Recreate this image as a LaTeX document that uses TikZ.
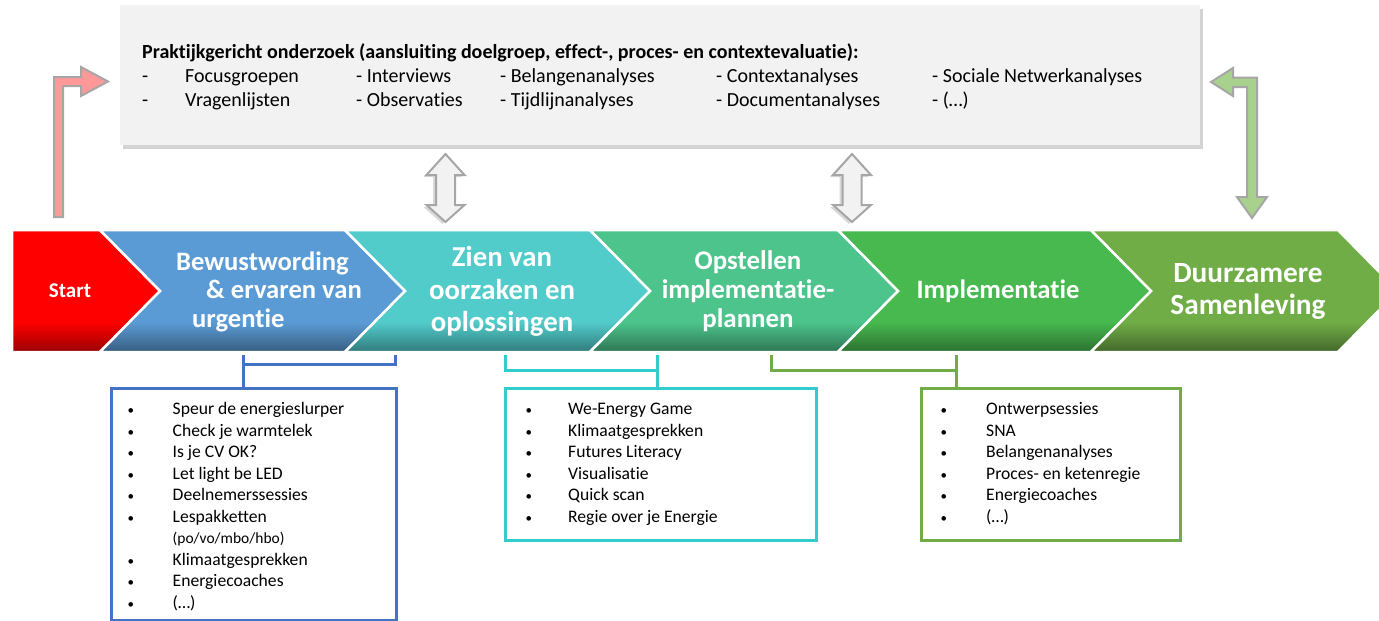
\documentclass[tikz,border=0pt]{standalone}
\usepackage{fontspec}
\setmainfont{Carlito}[Ligatures=NoCommon]
\usepackage{array}
\usetikzlibrary{shadows}
\definecolor{startred}{HTML}{FF0000}
\definecolor{bewblue}{HTML}{5B9BD5}
\definecolor{zienteal}{HTML}{52CBCB}
\definecolor{opstgreen}{HTML}{4CC48C}
\definecolor{implgreen}{HTML}{47B94F}
\definecolor{duurgreen}{HTML}{70AD47}
\definecolor{boxblue}{HTML}{4472C4}
\definecolor{boxteal}{HTML}{33CCCC}
\definecolor{boxgreen}{HTML}{70AD47}
\definecolor{arrowgray}{HTML}{A6A6A6}
\definecolor{panelgray}{HTML}{F2F2F2}
\definecolor{redarrow}{HTML}{FF9999}
\definecolor{greenarrow}{HTML}{A9D18E}
\newcommand{\lbul}{{\fontsize{13}{13}\selectfont\textbullet}}

\begin{document}
\begin{tikzpicture}[x=1pt,y=-1pt,
  panel/.style={fill=panelgray,inner sep=0,anchor=north west,
    drop shadow={shadow xshift=3pt,shadow yshift=-4pt,opacity=.35}},
  chevtext/.style={text=white,inner sep=0,align=center,
    font=\bfseries\fontsize{26.6}{28.5}\selectfont},
  listbox/.style={draw=#1,line width=3,anchor=north west,inner sep=0},
  listtext/.style={anchor=north west,inner sep=0,font=\fontsize{17.6}{21.5}\selectfont},
  bracket/.style={draw=#1,line width=3},
  blockarrow/.style={draw=arrowgray,line width=2,line join=miter}]
  \useasboundingbox (0,0) rectangle (1379,621);

  % research panel
  \node[panel,minimum width=1080,minimum height=140] (panel) at (120,5) {};
  \node[anchor=north west,inner sep=0,font=\fontsize{20}{24}\selectfont] (research) at (142,41.2) {%
    \begin{tabular}{@{}p{43pt}@{}p{171pt}@{}p{144pt}@{}p{216pt}@{}p{216pt}@{}l@{}}
      \multicolumn{6}{@{}l@{}}{\bfseries Praktijkgericht onderzoek (aansluiting doelgroep, effect-, proces- en contextevaluatie):}\\
      - & Focusgroepen & - Interviews & - Belangenanalyses & - Contextanalyses & - Sociale Netwerkanalyses\\
      - & Vragenlijsten & - Observaties & - Tijdlijnanalyses & - Documentanalyses & - (…)
    \end{tabular}};

  % feedback arrows
  \draw[blockarrow,fill=redarrow] (54,217) -- (54,77) -- (81,77) -- (81,67) -- (108,81.5)
    -- (81,96) -- (81,86) -- (63,86) -- (63,217) -- cycle;
  \draw[blockarrow,fill=greenarrow] (1211,82) -- (1233,68) -- (1233,77.5) -- (1257,77.5)
    -- (1257,197) -- (1267,197) -- (1252,218) -- (1237,197) -- (1247,197) -- (1247,87)
    -- (1233,87) -- (1233,96) -- cycle;
  \foreach \cx in {445.5,852}
    \draw[blockarrow,fill=panelgray,drop shadow={shadow xshift=-3pt,shadow yshift=-2pt,opacity=.3}]
      (\cx,154) -- ({\cx+19},175) -- ({\cx+9.5},175) -- ({\cx+9.5},205) -- ({\cx+19},205)
      -- (\cx,222) -- ({\cx-19},205) -- ({\cx-9.5},205) -- ({\cx-9.5},175) -- ({\cx-19},175) -- cycle;

  % process chevrons
  \foreach \l/\n/\r/\c in {12/0/100/startred,100/60/345/bewblue,345/60/590/zienteal,
                           590/60/838/opstgreen,838/60/1091/implgreen,1091/60/1338/duurgreen}{
    \begin{scope}
      \clip (\l,230) -- (\r,230) -- ({\r+60},291) -- (\r,352) -- (\l,352) -- ({\l+\n},291) -- cycle;
      \fill[\c] (\l,230) rectangle ({\r+60},352);
      \shade[top color=\c,bottom color=\c!60!black] (\l,322) rectangle ({\r+60},352);
    \end{scope}
    \draw[white,line width=2.5,line join=miter]
      (\l,230) -- (\r,230) -- ({\r+60},291) -- (\r,352) -- (\l,352) -- ({\l+\n},291) -- cycle;
  }
  \node[chevtext,font=\bfseries\fontsize{21}{24}\selectfont] (start) at (70,291) {Start};
  \node[chevtext,align=left,anchor=west] (bewust) at (176,291.5)
    {Bewustwording\\\hspace*{30pt}\& ervaren van\\\hspace*{16pt}urgentie};
  \node[chevtext,font=\bfseries\fontsize{28.8}{32.5}\selectfont] (zien) at (502,291.5)
    {Zien van\\oorzaken en\\oplossingen};
  \node[chevtext,font=\bfseries\fontsize{26.9}{29}\selectfont] (opstel) at (748,291.5)
    {Opstellen\\implementatie-\\plannen};
  \node[chevtext] (impl) at (998,291.5) {Implementatie};
  \node[chevtext,font=\bfseries\fontsize{29.3}{32}\selectfont] (duurzaam) at (1248,291.5)
    {Duurzamere\\Samenleving};

  % method boxes
  \node[listbox=boxblue,minimum width=285,minimum height=232] (boxA) at (110,387) {};
  \node[listbox=boxteal,minimum width=311.5,minimum height=152] (boxB) at (503.5,387) {};
  \node[listbox=boxgreen,minimum width=259,minimum height=152] (boxC) at (919.6,387) {};

  \node[listtext] (listA) at (127.5,399.5) {%
    \begin{tabular}{@{}p{45pt}@{}l@{}}
      \lbul & Speur de energieslurper\\
      \lbul & Check je warmtelek\\
      \lbul & Is je CV OK?\\
      \lbul & Let light be LED\\
      \lbul & Deelnemerssessies\\
      \lbul & Lespakketten\\
            & {\fontsize{15.5}{17}\selectfont (po/vo/mbo/hbo)}\\
      \lbul & Klimaatgesprekken\\
      \lbul & Energiecoaches\\
      \lbul & (…)
    \end{tabular}};
  \node[listtext] (listB) at (525.5,399.5) {%
    \begin{tabular}{@{}p{42.5pt}@{}l@{}}
      \lbul & We-Energy Game\\
      \lbul & Klimaatgesprekken\\
      \lbul & Futures Literacy\\
      \lbul & Visualisatie\\
      \lbul & Quick scan\\
      \lbul & Regie over je Energie
    \end{tabular}};
  \node[listtext] (listC) at (940.5,399.5) {%
    \begin{tabular}{@{}p{45.5pt}@{}l@{}}
      \lbul & Ontwerpsessies\\
      \lbul & SNA\\
      \lbul & Belangenanalyses\\
      \lbul & Proces- en ketenregie\\
      \lbul & Energiecoaches\\
      \lbul & (…)
    \end{tabular}};

  % brackets from phases to boxes
  \coordinate (bkA1) at (243,355);
  \coordinate (bkA2) at (395,355);
  \coordinate (bkB1) at (505,355);
  \coordinate (bkB2) at (657,355);
  \coordinate (bkC1) at (771.5,355);
  \coordinate (bkC2) at (956,355);
  \draw[bracket=boxblue] (bkA1) -- (bkA1 |- boxA.north);
  \draw[bracket=boxblue] ([yshift=-9pt]bkA1) -| (bkA2);
  \draw[bracket=boxteal] (bkB2) -- (bkB2 |- boxB.north);
  \draw[bracket=boxteal] (bkB1) |- ([yshift=-15pt]bkB2);
  \draw[bracket=boxgreen] (bkC2) -- (bkC2 |- boxC.north);
  \draw[bracket=boxgreen] (bkC1) |- ([yshift=-15pt]bkC2);
\end{tikzpicture}
\end{document}
